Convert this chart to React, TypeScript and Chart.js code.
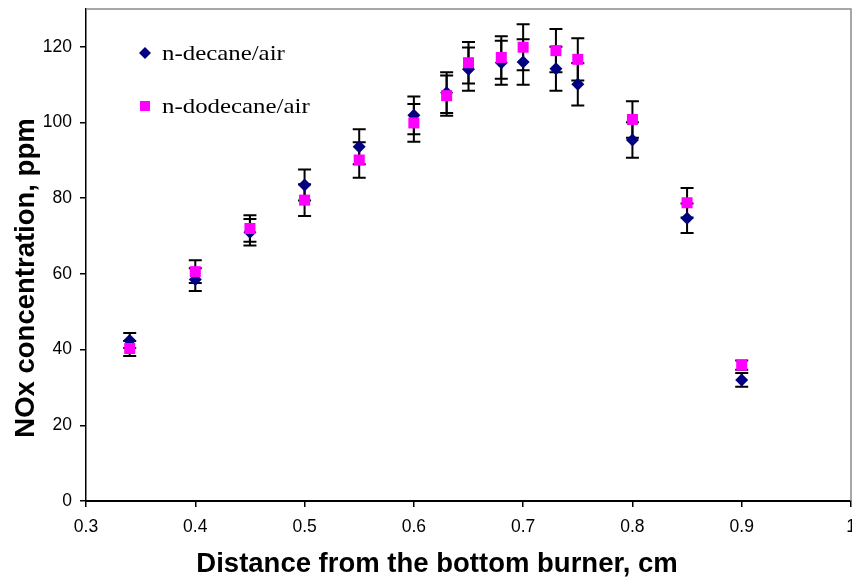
import React, { useEffect, useRef } from "react";
import { Chart, registerables } from "chart.js";

Chart.register(...registerables);

const distances = [0.34, 0.4, 0.45, 0.5, 0.55, 0.6, 0.63, 0.65, 0.68, 0.7, 0.73, 0.75, 0.8, 0.85, 0.9];
const decaneNOx = [42.4, 58.5, 71.0, 83.5, 93.6, 101.9, 107.9, 114.1, 115.8, 116.0, 114.2, 110.1, 95.4, 74.7, 32.0];
const decaneErr = [2.0, 3.0, 3.5, 4.1, 4.6, 5.0, 5.4, 5.7, 5.8, 6.0, 5.8, 5.6, 4.7, 3.9, 1.8];
const dodecaneNOx = [40.3, 60.6, 72.0, 79.5, 90.1, 99.9, 107.1, 115.8, 117.2, 119.9, 119.0, 116.7, 100.8, 78.8, 35.9];
const dodecaneErr = [2.0, 3.0, 3.5, 4.2, 4.7, 5.0, 5.3, 5.5, 5.6, 6.1, 5.7, 5.6, 4.8, 3.9, 1.2];
const seriesLabels = ["n-decane/air", "n-dodecane/air"];
const xTitle = "Distance from the bottom burner, cm";
const yTitle = "NOx concentration, ppm";
const xMin = 0.3;
const xMax = 1;
const yMin = 0;
const yMax = 130;
const yTickLimit = 120;

const errors = [decaneErr, dodecaneErr];

const errorBarPlugin = {
  id: "errorBars",
  beforeDatasetsDraw(chart: any) {
    const ctx = chart.ctx;
    const xs = chart.scales.x;
    const ys = chart.scales.y;
    ctx.save();
    ctx.strokeStyle = "#000";
    ctx.lineWidth = 2;
    chart.data.datasets.forEach((ds: any) => {
      const errs = errors[ds.errIndex];
      ds.data.forEach((p: any, i: number) => {
        const x = xs.getPixelForValue(p.x);
        const yTop = ys.getPixelForValue(p.y + errs[i]);
        const yBot = ys.getPixelForValue(p.y - errs[i]);
        ctx.beginPath();
        ctx.moveTo(x, yTop);
        ctx.lineTo(x, yBot);
        ctx.moveTo(x - 6.5, yTop);
        ctx.lineTo(x + 6.5, yTop);
        ctx.moveTo(x - 6.5, yBot);
        ctx.lineTo(x + 6.5, yBot);
        ctx.stroke();
      });
    });
    ctx.restore();
  },
};

const framePlugin = {
  id: "frameAndText",
  afterDraw(chart: any) {
    const ctx = chart.ctx;
    const a = chart.chartArea;
    ctx.save();
    // top and right frame
    ctx.strokeStyle = "#8a8a8a";
    ctx.lineWidth = 1.5;
    ctx.beginPath();
    ctx.moveTo(a.left, a.top);
    ctx.lineTo(a.right, a.top);
    ctx.lineTo(a.right, a.bottom);
    ctx.stroke();

    // legend
    const lx = a.left + 59;
    const rows = [a.top + 44, a.top + 97];
    ctx.fillStyle = "#000080";
    ctx.beginPath();
    ctx.moveTo(lx, rows[0] - 6);
    ctx.lineTo(lx + 6, rows[0]);
    ctx.lineTo(lx, rows[0] + 6);
    ctx.lineTo(lx - 6, rows[0]);
    ctx.closePath();
    ctx.fill();
    ctx.fillStyle = "#ff00ff";
    ctx.fillRect(lx - 5, rows[1] - 5, 10, 10);

    ctx.fillStyle = "#000";
    ctx.font = "22px 'Liberation Serif', 'Times New Roman', serif";
    ctx.textBaseline = "alphabetic";
    ctx.textAlign = "left";
    seriesLabels.forEach((t, i) => {
      ctx.save();
      ctx.translate(lx + 17, rows[i] + 7);
      ctx.scale(1.13, 1);
      ctx.fillText(t, 0, 0);
      ctx.restore();
    });

    // axis titles
    ctx.font = "bold 27.5px 'Liberation Sans', Arial, sans-serif";
    ctx.textAlign = "center";
    ctx.textBaseline = "middle";
    ctx.fillText(xTitle, 437, 564);
    ctx.save();
    ctx.translate(26, 278);
    ctx.rotate(-Math.PI / 2);
    ctx.fillText(yTitle, 0, 0);
    ctx.restore();
    ctx.restore();
  },
};

export default function App() {
  const ref = useRef<HTMLCanvasElement>(null);
  useEffect(() => {
    if (!ref.current) return;
    const tickFont = { family: "'Liberation Sans', Arial, sans-serif", size: 17.5 };
    const chart = new Chart(ref.current, {
      type: "scatter",
      data: {
        datasets: [
          {
            label: seriesLabels[1],
            errIndex: 1,
            order: 0,
            data: distances.map((x, i) => ({ x, y: dodecaneNOx[i] })),
            pointStyle: "rect",
            pointRadius: 7.8,
            pointHoverRadius: 7.8,
            backgroundColor: "#ff00ff",
            borderColor: "#ff00ff",
            borderWidth: 0,
            showLine: false,
          } as any,
          {
            label: seriesLabels[0],
            errIndex: 0,
            order: 1,
            data: distances.map((x, i) => ({ x, y: decaneNOx[i] })),
            pointStyle: "rectRot",
            pointRadius: 6.5,
            pointHoverRadius: 6.5,
            backgroundColor: "#000080",
            borderColor: "#000080",
            borderWidth: 0,
            showLine: false,
          } as any,
        ],
      },
      options: {
        responsive: false,
        animation: false,
        devicePixelRatio: 1,
        layout: { autoPadding: false, padding: { left: 0, top: 9, right: 1, bottom: 0 } },
        plugins: { legend: { display: false }, tooltip: { enabled: false } },
        scales: {
          x: {
            type: "linear",
            min: xMin,
            max: xMax,
            ticks: {
              stepSize: 0.1,
              color: "#000",
              font: tickFont,
              padding: 10,
              maxRotation: 0,
              autoSkip: false,
              callback: (v: any) => String(Number(Number(v).toFixed(1))),
            },
            grid: { drawOnChartArea: false, drawTicks: true, tickLength: 6, color: "#000", lineWidth: 1.5 },
            border: { color: "#000", width: 2 },
            afterFit: (s: any) => {
              s.height = 78;
              s.paddingLeft = 0;
              s.paddingRight = 0;
            },
          },
          y: {
            type: "linear",
            min: yMin,
            max: yMax,
            ticks: { stepSize: 20, color: "#000", font: tickFont, padding: 8 },
            afterBuildTicks: (s: any) => {
              s.ticks = s.ticks.filter((t: any) => t.value <= yTickLimit);
            },
            grid: { drawOnChartArea: false, drawTicks: true, tickLength: 6, color: "#000", lineWidth: 1.5 },
            border: { color: "#000", width: 1.5 },
            afterFit: (s: any) => {
              s.width = 86;
              s.paddingTop = 0;
              s.paddingBottom = 0;
            },
          },
        },
      } as any,
      plugins: [errorBarPlugin, framePlugin],
    });
    return () => chart.destroy();
  }, []);
  return (
    <div style={{ position: "fixed", left: 0, top: 0, width: 852, height: 579, background: "#fff" }}>
      <canvas ref={ref} width={852} height={579} />
    </div>
  );
}
